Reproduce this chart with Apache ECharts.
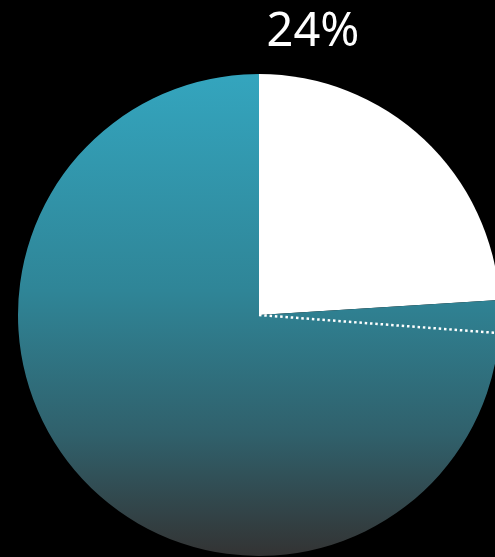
<!DOCTYPE html>
<html>
<head>
<meta charset="utf-8">
<style>
html,body{margin:0;padding:0;background:#000;}
#chart{width:495px;height:557px;}
</style>
<script src="https://cdn.jsdelivr.net/npm/echarts@6/dist/echarts.min.js"></script>
</head>
<body>
<div id="chart"></div>
<script>
const sliceNames = ['Highlighted', 'Rest'];
const sliceValues = [24, 76];
const markerPercent = 26.2;

const chart = echarts.init(document.getElementById('chart'));
const total = sliceValues.reduce((a, b) => a + b, 0);
const pct = Math.round(sliceValues[0] / total * 100) + '%';

chart.setOption({
  backgroundColor: '#000',
  animation: false,
  title: {
    text: pct,
    left: 308,
    top: 4,
    textAlign: 'center',
    textStyle: { color: '#fff', fontSize: 47, fontWeight: 'normal', fontFamily: 'Noto Sans' }
  },
  polar: { center: [259, 315], radius: 241 },
  angleAxis: { type: 'value', min: 0, max: 100, startAngle: 90, clockwise: true, show: false },
  radiusAxis: { type: 'value', min: 0, max: 1, show: false },
  series: [
    {
      type: 'pie',
      center: [259, 315],
      radius: [0, 241],
      startAngle: 90,
      clockwise: true,
      label: { show: false },
      labelLine: { show: false },
      silent: true,
      z: 1,
      data: [
        { name: sliceNames[0], value: sliceValues[0], itemStyle: { color: '#ffffff' } },
        { name: sliceNames[1], value: sliceValues[1], itemStyle: {
          color: new echarts.graphic.LinearGradient(0, 0, 0, 1, [
            { offset: 0, color: '#34a5be' },
            { offset: 0.45, color: '#2f8597' },
            { offset: 0.75, color: '#30606b' },
            { offset: 1, color: '#333333' }
          ], false)
        } }
      ]
    },
    {
      type: 'line',
      coordinateSystem: 'polar',
      symbol: 'none',
      silent: true,
      z: 5,
      lineStyle: { color: '#fff', width: 2.5, type: [2.5, 2.8] },
      data: [[0, markerPercent], [1, markerPercent]]
    }
  ]
});
</script>
</body>
</html>
